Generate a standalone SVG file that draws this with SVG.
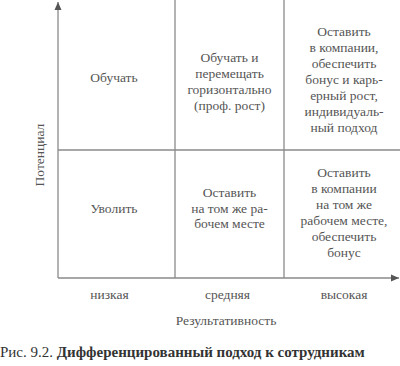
<svg xmlns="http://www.w3.org/2000/svg" width="400" height="366" viewBox="0 0 400 366">
<defs>
<style>
.ln{stroke:#8a8a8a;stroke-width:1.3;fill:none}
.t{font-size:13.5px;fill:#555;text-anchor:middle}
.cap{font-size:15px;fill:#333}
</style>
<marker id="ah" markerWidth="8" markerHeight="8" refX="8" refY="4" orient="auto" markerUnits="userSpaceOnUse">
<path d="M0,0.5 L8,4 L0,7.5 Z" fill="#555"/>
</marker>
</defs>
<rect width="400" height="366" fill="#fff"/>
<g id="connectors">
<line class="ln" x1="58" y1="278" x2="58" y2="2" marker-end="url(#ah)"/>
<line class="ln" x1="58" y1="278" x2="399" y2="278" marker-end="url(#ah)"/>
<line class="ln" x1="175" y1="0" x2="175" y2="278"/>
<line class="ln" x1="284" y1="0" x2="284" y2="278"/>
<line class="ln" x1="58" y1="150" x2="400" y2="150"/>
</g>
<g font-family="Liberation Serif">
<g id="cell-train"><text class="t" x="114" y="82">Обучать</text></g>
<g id="cell-train-move"><text class="t" x="229.5" y="62">Обучать и</text><text class="t" x="229.5" y="78">перемещать</text><text class="t" x="229.5" y="94">горизонтально</text><text class="t" x="229.5" y="110">(проф. рост)</text></g>
<g id="cell-keep-grow"><text class="t" x="344" y="36">Оставить</text><text class="t" x="344" y="52">в компании,</text><text class="t" x="344" y="68">обеспечить</text><text class="t" x="344" y="84">бонус и карь-</text><text class="t" x="344" y="100">ерный рост,</text><text class="t" x="344" y="116">индивидуаль-</text><text class="t" x="344" y="132">ный подход</text></g>
<g id="cell-fire"><text class="t" x="114" y="213">Уволить</text></g>
<g id="cell-keep-same"><text class="t" x="229.5" y="197">Оставить</text><text class="t" x="229.5" y="213">на том же ра-</text><text class="t" x="229.5" y="228">бочем месте</text></g>
<g id="cell-keep-bonus"><text class="t" x="344" y="177">Оставить</text><text class="t" x="344" y="193">в компании</text><text class="t" x="344" y="209">на том же</text><text class="t" x="344" y="225">рабочем месте,</text><text class="t" x="344" y="241">обеспечить</text><text class="t" x="344" y="257">бонус</text></g>
<g id="axis-labels">
<text class="t" x="40" y="155" transform="rotate(-90 40 155)" dy="4">Потенциал</text>
<text class="t" x="109.5" y="299">низкая</text>
<text class="t" x="227.5" y="299">средняя</text>
<text class="t" x="344" y="299">высокая</text>
<text class="t" x="226" y="325">Результативность</text>
</g>
<g id="caption"><text class="cap" x="0" y="357">Рис. 9.2. <tspan font-weight="bold">Дифференцированный подход к сотрудникам</tspan></text></g>
</g>
</svg>
